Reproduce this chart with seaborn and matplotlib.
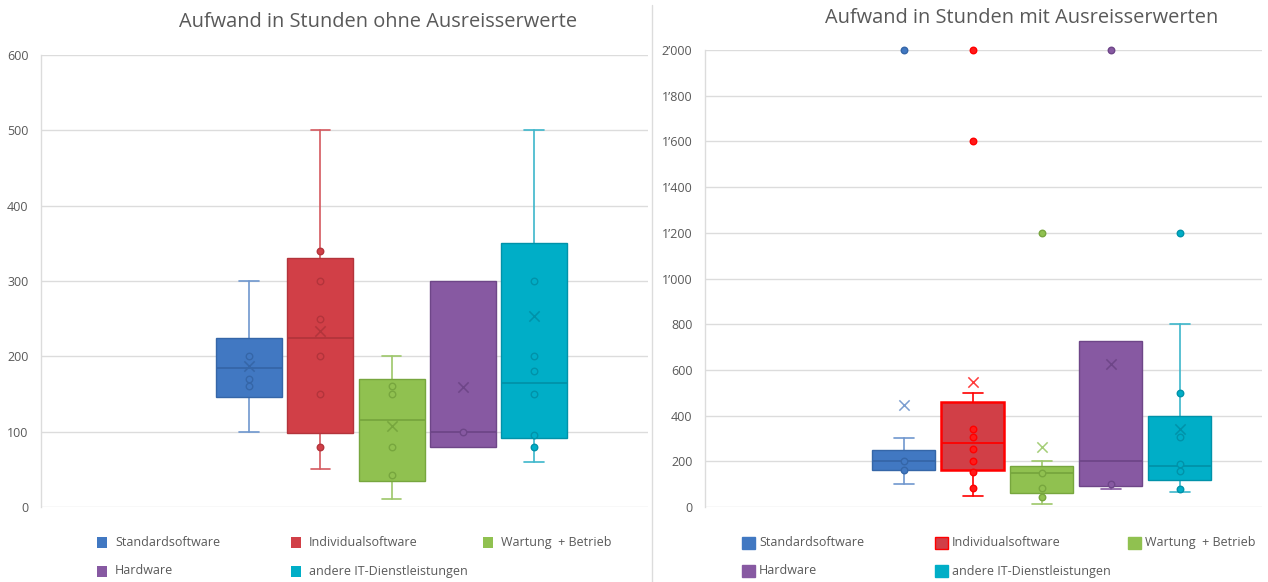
import numpy as np
import pandas as pd
import matplotlib
matplotlib.use("Agg")
import matplotlib.pyplot as plt
from matplotlib.patches import Rectangle
from matplotlib.lines import Line2D
from matplotlib.ticker import FuncFormatter, MultipleLocator
import seaborn as sns

# categories
categories = ["Standardsoftware", "Individualsoftware", "Wartung  + Betrieb",
              "Hardware", "andere IT-Dienstleistungen"]

# left chart: without outliers (box stats)
q1_left = [146, 98, 35, 80, 91]
median_left = [185, 224, 116, 100, 165]
q3_left = [225, 331, 170, 300, 350]
whislo_left = [100, 50, 11, 80, 60]
whishi_left = [300, 500, 200, 300, 500]
mean_left = [187, 233, 107, 159, 253]
points_left = [
    [200, 170, 160],
    [340, 300, 250, 200, 150, 80],
    [160, 150, 80, 43],
    [100],
    [300, 200, 180, 150, 95, 80],
]

# right chart: with outliers
q1_right = [163, 163, 63, 92, 120]
median_right = [200, 280, 150, 200, 180]
q3_right = [250, 458, 180, 727, 400]
whislo_right = [100, 50, 15, 78, 66]
whishi_right = [300, 500, 200, 727, 800]
mean_right = [445, 546, 264, 625, 340]
points_right = [
    [200, 160],
    [342, 305, 254, 200, 153, 83],
    [150, 83, 45],
    [100],
    [500, 305, 186, 156, 80],
]
outliers_right = [
    [2000],
    [2000, 1600],
    [1200],
    [2000],
    [1200],
]

# colours
fills = ["#4178C2", "#D13F47", "#90C150", "#8759A2", "#00AEC7"]
darks = ["#3566A8", "#B3343B", "#77A63E", "#6E4688", "#0092A9"]
whisk = ["#6F97CE", "#D4595F", "#9DC76A", "#8759A2", "#3DB6CB"]

edges_r = ["#3566A8", "#FF0000", "#77A63E", "#6E4688", "#0092A9"]
whisk_r = ["#6F97CE", "#FF0000", "#9DC76A", "#8759A2", "#3DB6CB"]
pt_edge_r = ["#3566A8", "#FF0000", "#77A63E", "#6E4688", "#0092A9"]
pt_fill_r = ["#4178C2", "#FF1A1A", "#90C150", "#8759A2", "#00AEC7"]
mean_col_r = ["#7C9ED0", "#FF3B3B", "#A5CE78", "#6E4688", "#0092A9"]

grey = "#595959"
grid = "#DCDCDC"

sns.set_theme(style="white")
plt.rcParams["font.family"] = ["Open Sans", "DejaVu Sans"]

W, H = 1268, 582
fig = plt.figure(figsize=(W / 100, H / 100), dpi=100)


def px(x, y):
    return x / W, 1 - y / H


def draw_panel(ax, q1, med, q3, lo, hi, means, pts, outl, fcol, ecol, wcol, pfill, pedge,
               mcol, width, capw, edge_lw):
    stats = []
    for i in range(len(categories)):
        stats.append(dict(q1=q1[i], med=med[i], q3=q3[i], whislo=lo[i], whishi=hi[i],
                          fliers=[], label=categories[i]))
    pos = np.arange(len(categories))
    res = ax.bxp(stats, positions=pos, widths=width, capwidths=capw,
                 patch_artist=True, showfliers=False, manage_ticks=False)
    for i in range(len(categories)):
        b = res["boxes"][i]
        b.set_facecolor(fcol[i])
        b.set_edgecolor(ecol[i])
        b.set_linewidth(edge_lw[i])
        b.set_zorder(2)
        res["medians"][i].set_color(ecol[i])
        res["medians"][i].set_linewidth(1.3)
        res["medians"][i].set_zorder(2.5)
        ends = [(lo[i], q1[i]), (hi[i], q3[i])]
        for k in range(2):
            w = res["whiskers"][2 * i + k]
            c = res["caps"][2 * i + k]
            for art in (w, c):
                art.set_color(wcol[i])
                art.set_linewidth(1.2)
                art.set_zorder(1.5)
            if ends[k][0] == ends[k][1]:
                c.set_visible(False)
        vals = list(pts[i]) + (list(outl[i]) if outl is not None else [])
        sns.scatterplot(x=[pos[i]] * len(vals), y=vals, ax=ax, color=pfill[i],
                        edgecolor=pedge[i], linewidth=1.0, s=22, zorder=3,
                        legend=False, clip_on=False)
        sns.scatterplot(x=[pos[i]], y=[means[i]], ax=ax, marker="x",
                        color=mcol[i], s=55, linewidth=1.1, zorder=3, legend=False)
    ax.grid(axis="y", color=grid, linewidth=1)
    ax.set_axisbelow(True)
    for s in ["top", "right", "bottom"]:
        ax.spines[s].set_visible(False)
    ax.spines["left"].set_color(grid)
    ax.spines["left"].set_linewidth(1)
    ax.tick_params(axis="y", length=0, labelsize=9, labelcolor=grey, pad=9)
    ax.tick_params(axis="x", length=0)
    ax.set_xticks([])


ax1 = fig.add_axes([41 / W, 1 - 507 / H, 607 / W, 452 / H])
ax2 = fig.add_axes([705 / W, 1 - 507 / H, 557 / W, 457 / H])

draw_panel(ax1, q1_left, median_left, q3_left, whislo_left, whishi_left, mean_left,
           points_left, None, fills, darks, whisk, fills, darks, darks, 0.926, 0.27, [1] * 5)
ax1.set_xlim(-2.92, 5.6)
ax1.set_ylim(0, 600)
ax1.yaxis.set_major_locator(MultipleLocator(100))

draw_panel(ax2, q1_right, median_right, q3_right, whislo_right, whishi_right, mean_right,
           points_right, outliers_right, fills, edges_r, whisk_r, pt_fill_r,
           pt_edge_r, mean_col_r, 0.913, 0.29, [1, 1.8, 1, 1, 1])
ax2.set_xlim(-2.88, 5.19)
ax2.set_ylim(0, 2000)
ax2.yaxis.set_major_locator(MultipleLocator(200))
ax2.yaxis.set_major_formatter(FuncFormatter(lambda v, p: f"{int(v):,}".replace(",", "\u2019")))

# titles
fig.text(*px(378, 22), "Aufwand in Stunden ohne Ausreisserwerte", ha="center", va="center",
         fontsize=14.4, color=grey)
fig.text(*px(1022, 18), "Aufwand in Stunden mit Ausreisserwerten", ha="center", va="center",
         fontsize=14.4, color=grey)

# separator between the two charts
fig.add_artist(Line2D([652 / W, 652 / W], [0, 1 - 5 / H], color=grid, linewidth=1))

# legends
slots_left = [(97, 542.5), (291, 542.5), (483, 542.5), (97, 571), (291, 571)]
slots_right = [(742, 542.5), (935, 542.5), (1128, 542.5), (742, 571), (935, 571)]
leg_edge_r = [fills[0], "#FF0000", fills[2], fills[3], fills[4]]
for i in range(len(categories)):
    x, y = slots_left[i]
    fig.add_artist(Rectangle(px(x, y + 5.5), 10 / W, 11 / H, facecolor=fills[i],
                             edgecolor="none", transform=fig.transFigure))
    fig.text(*px(x + 18, y), categories[i], ha="left", va="center", fontsize=9, color=grey)
    x, y = slots_right[i]
    fig.add_artist(Rectangle(px(x, y + 6), 13 / W, 12 / H, facecolor=fills[i],
                             edgecolor=leg_edge_r[i], linewidth=1,
                             transform=fig.transFigure))
    fig.text(*px(x + 17, y), categories[i], ha="left", va="center", fontsize=9, color=grey)

fig.savefig("out.png", dpi=100)
